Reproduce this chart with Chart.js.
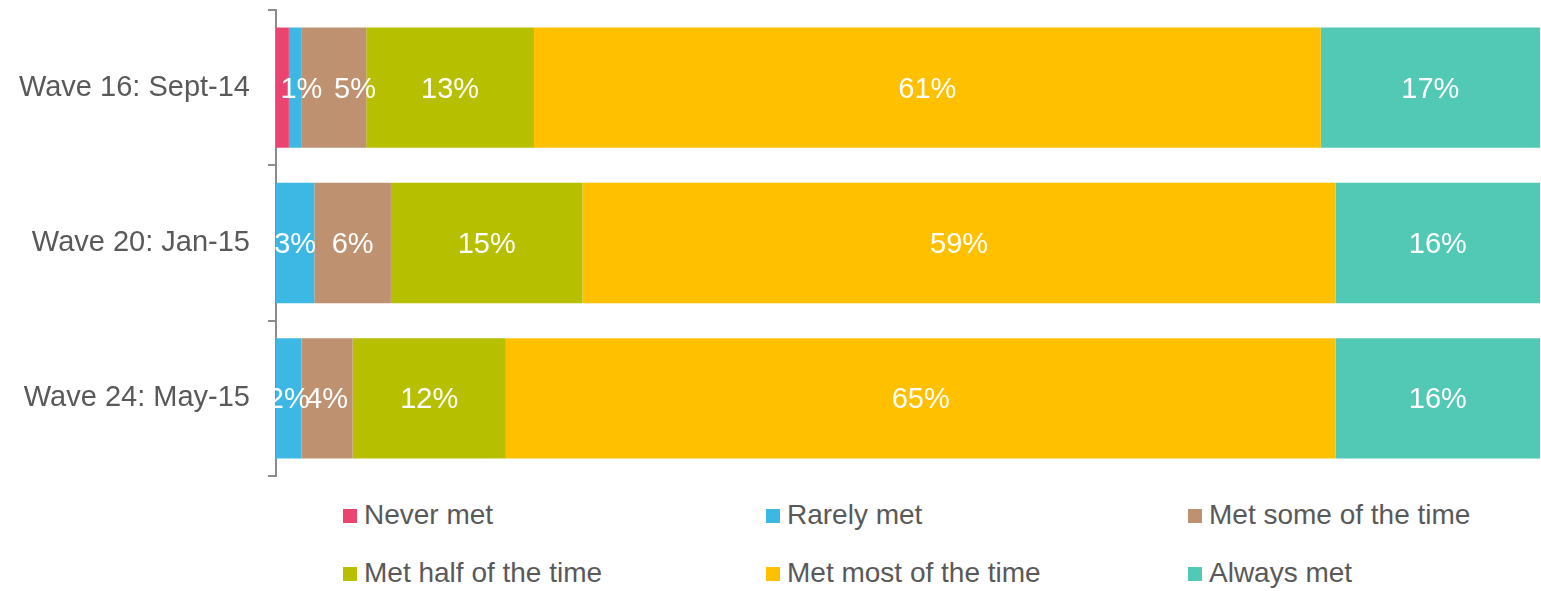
<!DOCTYPE html>
<html>
<head>
<meta charset="utf-8">
<script src="https://cdn.jsdelivr.net/npm/chart.js@4/dist/chart.umd.min.js"></script>
<style>
  html, body { margin: 0; padding: 0; background: #fff; }
  body { width: 1541px; height: 591px; position: relative; overflow: hidden; font-family: "Liberation Sans", Arial, sans-serif; }
  #wrap { position: absolute; left: 0; top: 0; width: 1541px; height: 486px; }
  #legend { position: absolute; left: 343px; top: 486px; display: grid; grid-template-columns: 423px 422px 360px; grid-auto-rows: 58px; }
  .item { display: flex; align-items: center; font-size: 28px; color: #595959; white-space: nowrap; }
  .box { width: 14px; height: 14px; margin-right: 7px; flex: none; position: relative; top: 1px; }
</style>
</head>
<body>
<div id="wrap"><canvas id="c"></canvas></div>
<div id="legend"></div>
<script>
const categories = ['Wave 16: Sept-14', 'Wave 20: Jan-15', 'Wave 24: May-15'];
const seriesNames = ['Never met', 'Rarely met', 'Met some of the time', 'Met half of the time', 'Met most of the time', 'Always met'];
const neverMet   = [1, 0, 0];
const rarelyMet  = [1, 3, 2];
const metSome    = [5, 6, 4];
const metHalf    = [13, 15, 12];
const metMost    = [61, 59, 65];
const alwaysMet  = [17, 16, 16];
const seriesColors = ['#EC4470', '#3DB8E5', '#BE9170', '#B6BF00', '#FFC000', '#52C9B5'];
const showLabels = [false, true, true, true, true, true];

const raw = [neverMet, rarelyMet, metSome, metHalf, metMost, alwaysMet];
const totals = categories.map((_, i) => raw.reduce((s, arr) => s + arr[i], 0));

const datasets = raw.map((arr, k) => ({
  label: seriesNames[k],
  data: arr.map((v, i) => v / totals[i] * 100),
  rawValues: arr,
  showLabel: showLabels[k],
  backgroundColor: seriesColors[k],
  borderWidth: 0,
  categoryPercentage: 0.775,
  barPercentage: 1.0
}));

// label nudges (style only): "datasetIndex-categoryIndex" -> x shift in px
const labelNudge = { '1-0': 6, '2-0': 21 };

const labelPlugin = {
  id: 'segLabels',
  afterDatasetsDraw(chart) {
    const ctx = chart.ctx;
    ctx.save();
    ctx.font = '29px "Liberation Sans", Arial, sans-serif';
    ctx.fillStyle = '#ffffff';
    ctx.textAlign = 'center';
    ctx.textBaseline = 'middle';
    chart.data.datasets.forEach((ds, di) => {
      if (!ds.showLabel) return;
      const meta = chart.getDatasetMeta(di);
      meta.data.forEach((bar, i) => {
        const v = ds.rawValues[i];
        if (!v) return;
        const x = (bar.x + bar.base) / 2 + (labelNudge[di + '-' + i] || 0);
        ctx.fillText(v + '%', x, bar.y + 2);
      });
    });
    ctx.restore();
  }
};

new Chart(document.getElementById('c'), {
  type: 'bar',
  data: { labels: categories, datasets },
  options: {
    indexAxis: 'y',
    responsive: true,
    maintainAspectRatio: false,
    animation: false,
    layout: { padding: { left: 15, right: 1, top: 10, bottom: 10 } },
    plugins: { legend: { display: false }, tooltip: { enabled: false } },
    scales: {
      x: { stacked: true, min: 0, max: 100, display: false },
      y: {
        stacked: true,
        offset: true,
        afterFit(s) { s.width = 261; s.paddingTop = 0; s.paddingBottom = 0; },
        grid: { display: true, offset: true, drawOnChartArea: false, drawTicks: true, tickLength: 8, color: '#8C8C8C', lineWidth: 2 },
        border: { display: true, color: '#8C8C8C', width: 2 },
        ticks: { color: '#595959', padding: 18, font: { size: 29, family: '"Liberation Sans", Arial, sans-serif' } }
      }
    }
  },
  plugins: [labelPlugin]
});

const legend = document.getElementById('legend');
seriesNames.forEach((name, k) => {
  const it = document.createElement('div');
  it.className = 'item';
  const b = document.createElement('span');
  b.className = 'box';
  b.style.background = seriesColors[k];
  const t = document.createElement('span');
  t.textContent = name;
  it.appendChild(b); it.appendChild(t);
  legend.appendChild(it);
});
</script>
</body>
</html>
